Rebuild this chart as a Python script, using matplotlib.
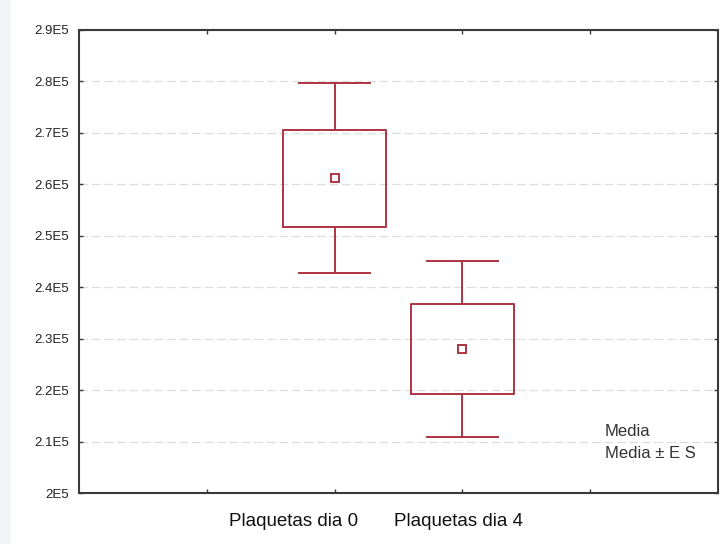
import numpy as np
import matplotlib.pyplot as plt
import matplotlib.ticker as ticker
from matplotlib.patches import Rectangle

plt.rcParams['font.family'] = ['Liberation Sans', 'DejaVu Sans']

# values
groups = ['Plaquetas dia 0', 'Plaquetas dia 4']
positions = [2, 3]
means = [261200, 227900]
box_lo = [251700, 219200]      # media - ES
box_hi = [270500, 236700]      # media + ES
whisk_lo = [242700, 210800]
whisk_hi = [279700, 245100]
yticks = [200000, 210000, 220000, 230000, 240000, 250000,
          260000, 270000, 280000, 290000]
legend_lines = ['Media', 'Media \u00b1 E S']

red = '#ad3442'
axis_col = '#3a3a3a'

fig = plt.figure(figsize=(7.2, 5.44), dpi=100)
fig.patches.append(Rectangle((0, 0), 11 / 720, 1, transform=fig.transFigure,
                             facecolor='#f2f4f7', edgecolor='none', zorder=0))
ax = fig.add_axes([79 / 720, 1 - 493 / 544, 639 / 720, 463 / 544])

stats = []
for i in range(len(groups)):
    stats.append({'med': means[i], 'mean': means[i], 'q1': box_lo[i], 'q3': box_hi[i],
                  'whislo': whisk_lo[i], 'whishi': whisk_hi[i], 'fliers': []})

ax.bxp(stats, positions=positions, widths=0.8, capwidths=0.56,
       showmeans=True, showfliers=False,
       boxprops=dict(color=red, linewidth=1.4),
       whiskerprops=dict(color=red, linewidth=1.4),
       capprops=dict(color=red, linewidth=1.4),
       medianprops=dict(linewidth=0, alpha=0),
       meanprops=dict(marker='s', markersize=5.5, markerfacecolor='white',
                      markeredgecolor=red, markeredgewidth=1.4))

ax.set_xlim(0, 5)
ax.set_ylim(200000, 290000)
ax.set_yticks(yticks)
ax.yaxis.set_major_formatter(ticker.FuncFormatter(lambda v, p: '%gE5' % (v / 1e5)))
ax.set_xticks([1, 2, 3, 4])
ax.set_xticklabels([])
ax.tick_params(direction='in', length=3, width=1, color=axis_col,
               top=True, right=True, labelsize=9.5, labelcolor='#222222', pad=7)

ax.grid(axis='y', color='#dedede', linestyle=(0, (7, 3)), linewidth=0.9)
ax.set_axisbelow(True)
for s in ax.spines.values():
    s.set_color(axis_col)
    s.set_linewidth(1.5)

# category labels (offset as in the original)
label_x = [1.68, 2.97]
for x, g in zip(label_x, groups):
    ax.text(x, -0.062, g, transform=ax.get_xaxis_transform(),
            ha='center', va='center', fontsize=13.5, color='#111111')

ax.text(0.823, 0.133, legend_lines[0], transform=ax.transAxes,
        ha='left', va='center', fontsize=12, color='#333333')
ax.text(0.823, 0.086, legend_lines[1], transform=ax.transAxes,
        ha='left', va='center', fontsize=12, color='#333333')

fig.savefig('out.png', dpi=100)
